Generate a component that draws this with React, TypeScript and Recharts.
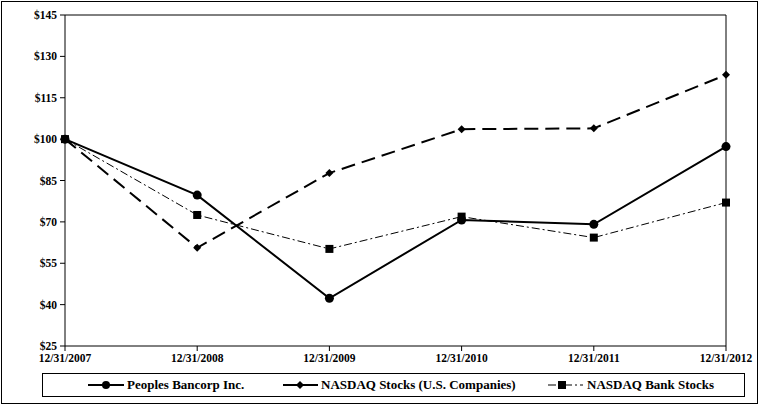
import { Legend, Line, LineChart, ReferenceLine, XAxis, YAxis } from "recharts";

const years = ["12/31/2007", "12/31/2008", "12/31/2009", "12/31/2010", "12/31/2011", "12/31/2012"];
const peoples = [100, 79.7, 42.3, 70.7, 69.1, 97.3];
const nasdaqUs = [100, 60.6, 87.7, 103.6, 103.9, 123.3];
const nasdaqBank = [100, 72.5, 60.2, 71.9, 64.3, 77.0];
const yTicks = [25, 40, 55, 70, 85, 100, 115, 130, 145];

const seriesNames = {
  peoples: "Peoples Bancorp Inc.",
  nasdaqUs: "NASDAQ Stocks (U.S. Companies)",
  nasdaqBank: "NASDAQ Bank Stocks",
};

const data = years.map((year, i) => ({
  year,
  peoples: peoples[i],
  nasdaqUs: nasdaqUs[i],
  nasdaqBank: nasdaqBank[i],
}));

const FONT = "Liberation Serif, Times New Roman, serif";

function Diamond(props: any) {
  const { cx, cy } = props;
  if (cx == null || cy == null) return null;
  const r = 4;
  return <path d={`M${cx},${cy - r}L${cx + r},${cy}L${cx},${cy + r}L${cx - r},${cy}Z`} fill="#000" />;
}

function Square(props: any) {
  const { cx, cy } = props;
  if (cx == null || cy == null) return null;
  return <rect x={cx - 4} y={cy - 4} width={8} height={8} fill="#000" />;
}

function LegendBox() {
  const itemStyle = { position: "absolute" as const, top: 2, display: "flex", alignItems: "center" };
  return (
    <div
      style={{
        position: "relative",
        width: 703,
        height: 24,
        border: "1px solid #000",
        boxSizing: "border-box",
        fontFamily: FONT,
        fontWeight: "bold",
        fontSize: 13,
        color: "#000",
      }}
    >
      <div style={{ ...itemStyle, left: 45 }}>
        <svg width={37} height={18}>
          <line x1={0} y1={9} x2={36} y2={9} stroke="#000" strokeWidth={2} />
          <circle cx={18} cy={9} r={4} fill="#000" />
        </svg>
        <span style={{ marginLeft: 2 }}>{seriesNames.peoples}</span>
      </div>
      <div style={{ ...itemStyle, left: 240 }}>
        <svg width={36} height={18}>
          <line x1={0} y1={9} x2={35} y2={9} stroke="#000" strokeWidth={2} />
          <Diamond cx={17} cy={9} />
        </svg>
        <span style={{ marginLeft: 2 }}>{seriesNames.nasdaqUs}</span>
      </div>
      <div style={{ ...itemStyle, left: 505 }}>
        <svg width={36} height={18}>
          <line x1={0} y1={9} x2={35} y2={9} stroke="#000" strokeWidth={1} strokeDasharray="8 3 2 3" />
          <Square cx={14} cy={9} />
        </svg>
        <span style={{ marginLeft: 3 }}>{seriesNames.nasdaqBank}</span>
      </div>
    </div>
  );
}

export default function App() {
  const tick = { fontSize: 11.5, fontFamily: FONT, fontWeight: "bold", fill: "#000" };
  return (
    <div style={{ position: "absolute", left: 0, top: 0, width: 764, height: 407, background: "#fff" }}>
      <div
        style={{
          position: "absolute",
          left: 1,
          top: 1,
          width: 757,
          height: 403,
          border: "1px solid #000",
          boxSizing: "border-box",
        }}
      />
      <LineChart width={764} height={407} data={data} margin={{ top: 15, right: 38, bottom: 17, left: 5 }}>
        <XAxis
          dataKey="year"
          tick={tick}
          stroke="#000"
          tickLine={{ stroke: "#000" }}
          tickSize={5}
          height={20}
          interval={0}
          tickMargin={3}
        />
        <YAxis
          domain={[25, 145]}
          ticks={yTicks}
          interval={0}
          tick={tick}
          stroke="#000"
          tickSize={5}
          width={60}
          tickMargin={3}
          tickFormatter={(v: number) => `$${v}`}
        />
        <ReferenceLine y={145} stroke="#000" strokeWidth={1} />
        <ReferenceLine x={years[years.length - 1]} stroke="#000" strokeWidth={1} />
        <Line
          dataKey="nasdaqBank"
          name={seriesNames.nasdaqBank}
          stroke="#000"
          strokeWidth={1}
          strokeDasharray="8 3 2 3"
          dot={<Square />}
          activeDot={false}
          isAnimationActive={false}
        />
        <Line
          dataKey="nasdaqUs"
          name={seriesNames.nasdaqUs}
          stroke="#000"
          strokeWidth={2}
          strokeDasharray="14 7"
          dot={<Diamond />}
          activeDot={false}
          isAnimationActive={false}
        />
        <Line
          dataKey="peoples"
          name={seriesNames.peoples}
          stroke="#000"
          strokeWidth={2}
          dot={{ r: 4.5, fill: "#000", stroke: "#000", strokeWidth: 0 }}
          activeDot={false}
          isAnimationActive={false}
        />
        <Legend
          verticalAlign="bottom"
          content={() => <LegendBox />}
          wrapperStyle={{ left: 42, bottom: 10, width: 703 }}
        />
      </LineChart>
    </div>
  );
}
